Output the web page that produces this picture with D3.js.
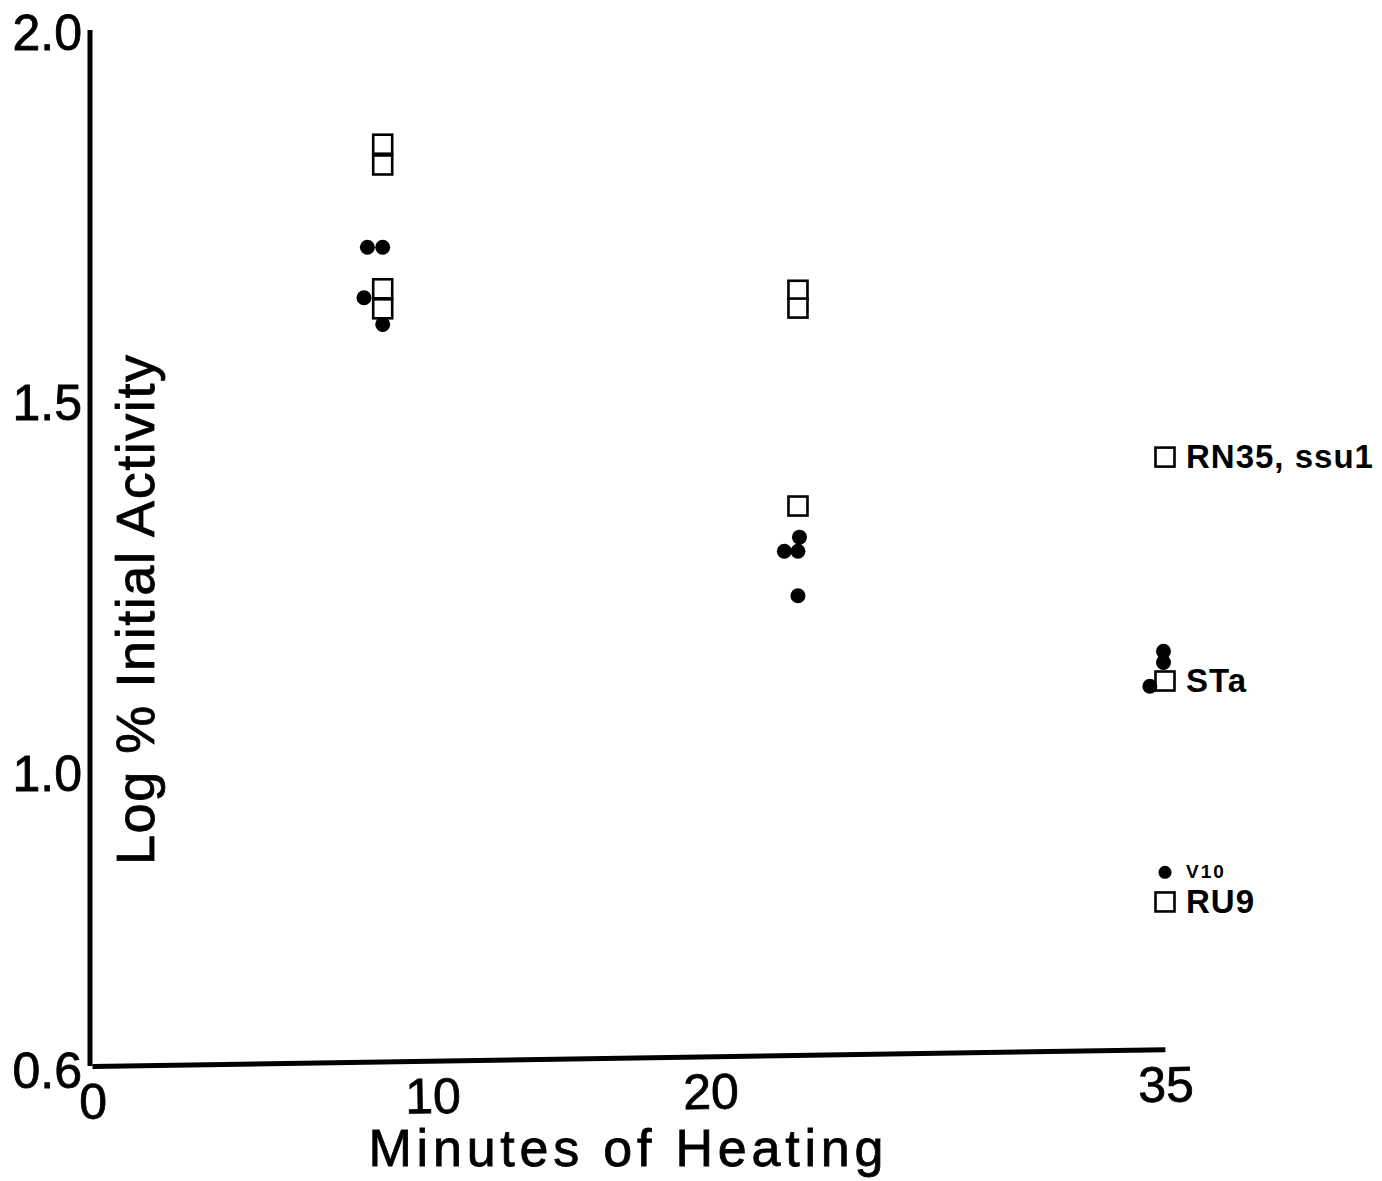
<!DOCTYPE html>
<html>
<head>
<meta charset="utf-8">
<script src="https://cdn.jsdelivr.net/npm/d3@7"></script>
<style>
  body { margin: 0; background: #fff; }
  svg { display: block; }
  .tick text { font-family: "Liberation Sans", Arial, sans-serif; fill: #000; stroke: #000; stroke-width: 0.8px; }
</style>
</head>
<body>
<div id="chart"></div>
<script>
// values
const xTicks = [0, 10, 20, 35]
const yTicks = [0.6, 1.0, 1.5, 2.0]

// open squares
const squareMinutes = [8.55, 8.55, 8.55, 8.55, 22.9, 22.9, 22.9, 35, 35, 35]
const squareLog = [1.850, 1.822, 1.655, 1.628, 1.653, 1.629, 1.362, 1.428, 1.126, 0.828]

// filled dots
const dotMinutes = [8.1, 8.55, 8.0, 8.55, 22.95, 22.45, 22.9, 22.9, 34.95, 34.95, 34.5, 35]
const dotLog = [1.711, 1.711, 1.643, 1.607, 1.320, 1.301, 1.301, 1.241, 1.166, 1.151, 1.119, 0.868]

// strain names written next to the 35 min values
const strainNames = ["RN35, ssu1", "STa", "V10", "RU9"]
const strainLog = [1.428, 1.126, 0.868, 0.828]

const width = 1382, height = 1181

var svg = d3.select('#chart').append('svg')
    .attr('width', width)
    .attr('height', height)

// the hand-lettered axis is not evenly spaced, so the scale follows its tick marks
var x = d3.scaleLinear().domain(xTicks).range([92, 432, 710, 1165])
var y = d3.scaleLinear().domain([0.6, 2.0]).range([1071, 33])

// y axis
var yAxis = svg.append('g')
    .attr('transform', 'translate(90,0)')
    .call(d3.axisLeft(y).tickValues(yTicks).tickSize(0).tickPadding(8).tickFormat(d3.format('.1f')))
yAxis.select('.domain').attr('stroke', '#000').attr('stroke-width', 5).attr('d', 'M0,30V1066')
yAxis.selectAll('.tick text').style('font-size', '50px')

// x axis, drawn slightly tilted like the original
var xAxis = svg.append('g')
    .attr('transform', `translate(0,1066) rotate(-0.9,${x(0)},0)`)
    .call(d3.axisBottom(x).tickValues(xTicks).tickSize(0).tickPadding(17).tickFormat(d3.format('d')))
xAxis.select('.domain').attr('stroke', '#000').attr('stroke-width', 5)
xAxis.selectAll('.tick text').style('font-size', '50px')

// axis titles
svg.append('text')
    .attr('x', 626)
    .attr('y', 1166)
    .attr('text-anchor', 'middle')
    .attr('textLength', 515)
    .attr('lengthAdjust', 'spacing')
    .style('font-family', '"Liberation Sans", Arial, sans-serif')
    .style('font-size', '52px')
    .style('stroke', '#000')
    .style('stroke-width', '0.8px')
    .text('Minutes of Heating')

svg.append('text')
    .attr('transform', 'translate(154,610) rotate(-90)')
    .attr('text-anchor', 'middle')
    .attr('textLength', 510)
    .attr('lengthAdjust', 'spacing')
    .style('font-family', '"Liberation Sans", Arial, sans-serif')
    .style('font-size', '54px')
    .style('stroke', '#000')
    .style('stroke-width', '0.8px')
    .text('Log % Initial Activity')

// squares
const sq = 19
svg.selectAll('rect.sq')
    .data(squareMinutes).enter()
    .append('rect')
    .attr('class', 'sq')
    .attr('x', (d) => x(d) - sq / 2)
    .attr('y', (d, i) => y(squareLog[i]) - sq / 2)
    .attr('width', sq)
    .attr('height', sq)
    .attr('fill', '#fff')
    .attr('stroke', '#000')
    .attr('stroke-width', 2.6)

// dots
svg.selectAll('circle.dot')
    .data(dotMinutes).enter()
    .append('circle')
    .attr('class', 'dot')
    .attr('cx', (d) => x(d))
    .attr('cy', (d, i) => y(dotLog[i]))
    .attr('r', (d, i) => dotLog[i] < 0.9 ? 6.5 : 7.5)
    .attr('fill', '#000')

// strain labels
svg.selectAll('text.strain')
    .data(strainNames).enter()
    .append('text')
    .attr('class', 'strain')
    .attr('x', x(35) + 21)
    .attr('y', (d, i) => y(strainLog[i]) + (d == 'V10' ? 6 : 11))
    .style('font-family', '"Liberation Sans", Arial, sans-serif')
    .style('font-weight', 'bold')
    .style('font-size', (d) => d == 'V10' ? '19px' : '33px')
    .style('letter-spacing', (d) => d == 'V10' ? '2px' : '1px')
    .text((d) => d)
</script>
</body>
</html>
